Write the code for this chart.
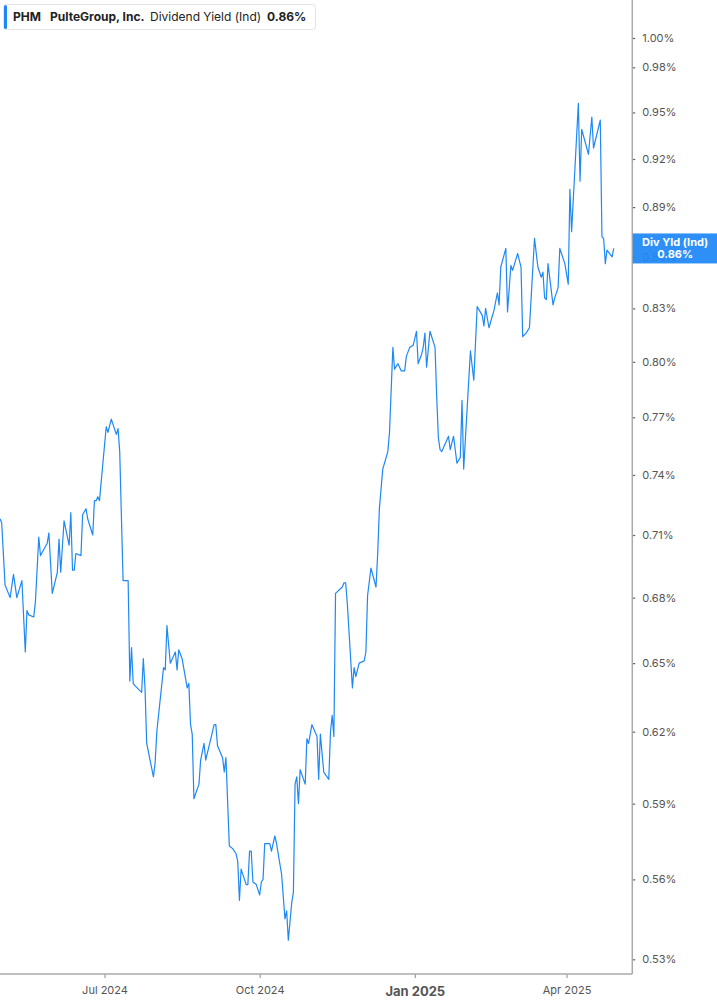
<!DOCTYPE html>
<html lang="en">
  <head>
    <meta charset="UTF-8" />
    <title>PHM Dividend Yield (Ind)</title>
    <style>
      body {
        margin: 0;
        background: #ffffff;
      }
      svg text {
        font-family: Inter, "Open Sans", sans-serif;
      }
    </style>
  </head>
  <body>
    <div id="chart"></div>

    <script src="https://cdn.jsdelivr.net/npm/d3@7"></script>

    <script>
      ///////////////////////////////////////////////////////////////////////////
      ///////////////////////////////// Data ////////////////////////////////////
      ///////////////////////////////////////////////////////////////////////////

      var ticker = "PHM",
        company = "PulteGroup, Inc.",
        metric = "Dividend Yield (Ind)",
        metricShort = "Div Yld (Ind)";

      var dates = [
        "2024-04-30", "2024-05-01", "2024-05-03", "2024-05-06", "2024-05-08", "2024-05-10",
        "2024-05-13", "2024-05-15", "2024-05-16", "2024-05-17", "2024-05-20", "2024-05-21",
        "2024-05-23", "2024-05-24", "2024-05-28", "2024-05-29", "2024-05-31", "2024-06-03",
        "2024-06-04", "2024-06-05", "2024-06-07", "2024-06-10", "2024-06-11", "2024-06-12",
        "2024-06-13", "2024-06-14", "2024-06-17", "2024-06-18", "2024-06-20", "2024-06-21",
        "2024-06-24", "2024-06-25", "2024-06-26", "2024-06-27", "2024-06-28", "2024-07-02",
        "2024-07-03", "2024-07-05", "2024-07-08", "2024-07-09", "2024-07-10", "2024-07-12",
        "2024-07-15", "2024-07-16", "2024-07-17", "2024-07-18", "2024-07-19", "2024-07-23",
        "2024-07-24", "2024-07-25", "2024-07-26", "2024-07-30", "2024-07-31", "2024-08-01",
        "2024-08-05", "2024-08-06", "2024-08-07", "2024-08-09", "2024-08-12", "2024-08-13",
        "2024-08-14", "2024-08-16", "2024-08-19", "2024-08-20", "2024-08-21", "2024-08-22",
        "2024-08-23", "2024-08-26", "2024-08-27", "2024-08-29", "2024-08-30", "2024-09-04",
        "2024-09-05", "2024-09-06", "2024-09-09", "2024-09-10", "2024-09-11", "2024-09-13",
        "2024-09-15", "2024-09-17", "2024-09-18", "2024-09-19", "2024-09-20", "2024-09-23",
        "2024-09-24", "2024-09-25", "2024-09-26", "2024-09-27", "2024-09-29", "2024-10-01",
        "2024-10-02", "2024-10-03", "2024-10-04", "2024-10-07", "2024-10-08", "2024-10-10",
        "2024-10-11", "2024-10-14", "2024-10-16", "2024-10-17", "2024-10-18", "2024-10-20",
        "2024-10-21", "2024-10-22", "2024-10-23", "2024-10-24", "2024-10-25", "2024-10-28",
        "2024-10-29", "2024-10-30", "2024-11-01", "2024-11-04", "2024-11-05", "2024-11-06",
        "2024-11-08", "2024-11-11", "2024-11-12", "2024-11-13", "2024-11-14", "2024-11-15",
        "2024-11-19", "2024-11-20", "2024-11-21", "2024-11-22", "2024-11-25", "2024-11-26",
        "2024-11-27", "2024-11-29", "2024-12-02", "2024-12-03", "2024-12-04", "2024-12-06",
        "2024-12-09", "2024-12-10", "2024-12-11", "2024-12-13", "2024-12-16", "2024-12-17",
        "2024-12-19", "2024-12-20", "2024-12-22", "2024-12-24", "2024-12-26", "2024-12-27",
        "2024-12-29", "2024-12-31", "2025-01-02", "2025-01-03", "2025-01-05", "2025-01-06",
        "2025-01-07", "2025-01-08", "2025-01-10", "2025-01-13", "2025-01-14", "2025-01-15",
        "2025-01-16", "2025-01-17", "2025-01-21", "2025-01-22", "2025-01-24", "2025-01-26",
        "2025-01-28", "2025-01-29", "2025-01-30", "2025-02-01", "2025-02-03", "2025-02-05",
        "2025-02-07", "2025-02-10", "2025-02-11", "2025-02-12", "2025-02-14", "2025-02-17",
        "2025-02-19", "2025-02-20", "2025-02-21", "2025-02-24", "2025-02-25", "2025-02-27",
        "2025-02-28", "2025-03-03", "2025-03-05", "2025-03-06", "2025-03-08", "2025-03-10",
        "2025-03-13", "2025-03-15", "2025-03-17", "2025-03-18", "2025-03-19", "2025-03-20",
        "2025-03-21", "2025-03-24", "2025-03-25", "2025-03-27", "2025-03-28", "2025-03-31",
        "2025-04-02", "2025-04-03", "2025-04-04", "2025-04-08", "2025-04-09", "2025-04-10",
        "2025-04-14", "2025-04-16", "2025-04-17", "2025-04-21", "2025-04-22", "2025-04-23",
        "2025-04-24", "2025-04-25", "2025-04-28", "2025-04-29"
      ];

      //dividend yield in percent
      var yields = [
        0.718, 0.716, 0.686, 0.680, 0.691, 0.680,
        0.688, 0.655, 0.674, 0.672, 0.671, 0.678,
        0.709, 0.700, 0.706, 0.711, 0.682, 0.692,
        0.708, 0.692, 0.717, 0.705, 0.721, 0.693,
        0.693, 0.701, 0.700, 0.720, 0.723, 0.718,
        0.710, 0.727, 0.727, 0.729, 0.727, 0.765,
        0.762, 0.769, 0.761, 0.764, 0.752, 0.688,
        0.688, 0.642, 0.657, 0.641, 0.640, 0.637,
        0.652, 0.639, 0.615, 0.601, 0.607, 0.620,
        0.648, 0.647, 0.667, 0.650, 0.655, 0.647,
        0.656, 0.652, 0.639, 0.641, 0.623, 0.619,
        0.592, 0.598, 0.608, 0.615, 0.608, 0.623,
        0.623, 0.614, 0.609, 0.603, 0.609, 0.573,
        0.572, 0.570, 0.567, 0.552, 0.564, 0.558,
        0.558, 0.571, 0.571, 0.559, 0.558, 0.554,
        0.559, 0.560, 0.574, 0.574, 0.571, 0.577,
        0.574, 0.562, 0.545, 0.548, 0.537, 0.551,
        0.555, 0.598, 0.601, 0.590, 0.604, 0.598,
        0.617, 0.615, 0.623, 0.618, 0.600, 0.619,
        0.603, 0.600, 0.620, 0.627, 0.618, 0.682,
        0.685, 0.687, 0.687, 0.677, 0.639, 0.648,
        0.644, 0.650, 0.651, 0.655, 0.681, 0.694,
        0.685, 0.701, 0.723, 0.743, 0.752, 0.762,
        0.808, 0.796, 0.799, 0.795, 0.795, 0.803,
        0.808, 0.809, 0.817, 0.799, 0.804, 0.808,
        0.816, 0.797, 0.817, 0.808, 0.781, 0.759,
        0.753, 0.752, 0.760, 0.753, 0.760, 0.746,
        0.749, 0.779, 0.743, 0.774, 0.806, 0.790,
        0.831, 0.826, 0.820, 0.830, 0.819, 0.829,
        0.839, 0.832, 0.854, 0.865, 0.828, 0.855,
        0.852, 0.862, 0.854, 0.814, 0.816, 0.819,
        0.871, 0.854, 0.848, 0.851, 0.836, 0.835,
        0.856, 0.832, 0.836, 0.842, 0.865, 0.856,
        0.844, 0.901, 0.875, 0.956, 0.906, 0.939,
        0.923, 0.947, 0.927, 0.945, 0.872, 0.871,
        0.856, 0.864, 0.860, 0.865
      ];

      var yTicks = [0.53, 0.56, 0.59, 0.62, 0.65, 0.68, 0.71, 0.74, 0.77, 0.8, 0.83, 0.86, 0.89, 0.92, 0.95, 0.98, 1.0];
      var xTicks = ["2024-07-01", "2024-10-01", "2025-01-01", "2025-04-01"];
      var xTickLabels = ["Jul 2024", "Oct 2024", "Jan 2025", "Apr 2025"];
      var xDomain = ["2024-04-30", "2025-05-10"];
      var currentValue = 0.86;

      ///////////////////////////////////////////////////////////////////////////
      //////////////////// Set up and initiate svg containers ///////////////////
      ///////////////////////////////////////////////////////////////////////////

      var width = 717,
        height = 1005,
        plotRight = 632.3,
        plotBottom = 974;

      var svg = d3
        .select("#chart")
        .append("svg")
        .attr("width", width)
        .attr("height", height);

      var parse = d3.utcParse("%Y-%m-%d");

      var data = dates.map(function(d, i) {
        return { date: parse(d), value: yields[i] };
      });

      var x = d3
        .scaleUtc()
        .domain(xDomain.map(parse))
        .range([0, plotRight]);

      //log scale, the gaps between the ticks shrink going up
      var y = d3
        .scaleLog()
        .domain([0.53, 1.0])
        .range([959.3, 38]);

      ///////////////////////////////////////////////////////////////////////////
      ///////////////////////////////// Axes ////////////////////////////////////
      ///////////////////////////////////////////////////////////////////////////

      var yAxis = svg
        .append("g")
        .attr("class", "y-axis")
        .attr("transform", "translate(" + plotRight + ",0)")
        .call(
          d3
            .axisRight(y)
            .tickValues(yTicks)
            .tickSize(3)
            .tickPadding(7)
            .tickFormat(function(d) {
              return d3.format(".2f")(d) + "%";
            })
        );
      yAxis.select(".domain").remove();
      yAxis.selectAll(".tick line").attr("stroke", "#666").attr("stroke-width", 1.2);
      yAxis
        .selectAll(".tick text")
        .attr("fill", "#555")
        .style("font-size", "11px");

      var xAxis = svg
        .append("g")
        .attr("class", "x-axis")
        .attr("transform", "translate(0," + plotBottom + ")")
        .call(
          d3
            .axisBottom(x)
            .tickValues(xTicks.map(parse))
            .tickSize(4)
            .tickPadding(8)
            .tickFormat(function(d, i) {
              return xTickLabels[i];
            })
        );
      xAxis.select(".domain").remove();
      xAxis.selectAll(".tick line").attr("stroke", "#888");
      xAxis
        .selectAll(".tick text")
        .attr("fill", "#555")
        .style("font-size", "11px")
        .filter(function(d) {
          return d.getUTCMonth() === 0;
        })
        //year start gets a bigger bold label
        .style("font-size", "13px")
        .style("font-weight", "700")
        .attr("dy", "0.8em");

      //frame lines (bottom + right)
      svg
        .append("line")
        .attr("x1", 0)
        .attr("x2", plotRight)
        .attr("y1", plotBottom)
        .attr("y2", plotBottom)
        .style("stroke", "#aaa")
        .style("stroke-width", 1.5);
      svg
        .append("line")
        .attr("x1", plotRight)
        .attr("x2", plotRight)
        .attr("y1", 0)
        .attr("y2", plotBottom)
        .style("stroke", "#aaa")
        .style("stroke-width", 1.5);

      ///////////////////////////////////////////////////////////////////////////
      ///////////////////////////////// Line ////////////////////////////////////
      ///////////////////////////////////////////////////////////////////////////

      svg
        .append("defs")
        .append("clipPath")
        .attr("id", "plotClip")
        .append("rect")
        .attr("x", 0)
        .attr("y", 0)
        .attr("width", plotRight)
        .attr("height", plotBottom);

      var line = d3
        .line()
        .x(function(d) {
          return x(d.date);
        })
        .y(function(d) {
          return y(d.value);
        });

      svg
        .append("path")
        .datum(data)
        .attr("clip-path", "url(#plotClip)")
        .attr("d", line)
        .style("fill", "none")
        .style("stroke", "#1e88f5")
        .style("stroke-width", 1.2)
        .style("stroke-linejoin", "round");

      ///////////////////////////////////////////////////////////////////////////
      ///////////////////////// Current value tag ///////////////////////////////
      ///////////////////////////////////////////////////////////////////////////

      var last = data[data.length - 1],
        tagY = y(last.value);

      var tag = svg.append("g").attr("transform", "translate(" + (plotRight + 0.5) + "," + tagY + ")");
      tag
        .append("rect")
        .attr("x", 0)
        .attr("y", -15)
        .attr("width", width - plotRight)
        .attr("height", 30)
        .style("fill", "#1e88f5")
        .style("fill-opacity", 0.93);
      tag
        .append("text")
        .attr("x", (width - plotRight) / 2)
        .attr("y", -2)
        .attr("text-anchor", "middle")
        .style("font-size", "11px")
        .style("font-weight", "700")
        .style("fill", "#fff")
        .text(metricShort);
      tag
        .append("text")
        .attr("x", (width - plotRight) / 2)
        .attr("y", 10)
        .attr("text-anchor", "middle")
        .style("font-size", "11px")
        .style("font-weight", "700")
        .style("fill", "#fff")
        .text(d3.format(".2f")(currentValue) + "%");

      ///////////////////////////////////////////////////////////////////////////
      //////////////////////////////// Legend ///////////////////////////////////
      ///////////////////////////////////////////////////////////////////////////

      var legend = svg.append("g").attr("class", "legend");
      legend
        .append("rect")
        .attr("x", 3.5)
        .attr("y", 4.5)
        .attr("width", 312)
        .attr("height", 25)
        .attr("rx", 3)
        .style("fill", "#fff")
        .style("stroke", "#e4e4e4");
      legend
        .append("rect")
        .attr("x", 4)
        .attr("y", 5)
        .attr("width", 3)
        .attr("height", 24)
        .attr("rx", 1.5)
        .style("fill", "#1e88f5");

      var legendText = [
        { t: ticker, x: 13, w: 700 },
        { t: company, x: 50, w: 700 },
        { t: metric, x: 150, w: 400 },
        { t: d3.format(".2f")(currentValue) + "%", x: 267, w: 700 }
      ];
      legend
        .selectAll(".legend-text")
        .data(legendText)
        .enter()
        .append("text")
        .attr("class", "legend-text")
        .attr("x", function(d) {
          return d.x;
        })
        .attr("y", 21)
        .style("font-size", "12px")
        .style("font-weight", function(d) {
          return d.w;
        })
        .style("fill", "#222")
        .text(function(d) {
          return d.t;
        });
    </script>
  </body>
</html>
